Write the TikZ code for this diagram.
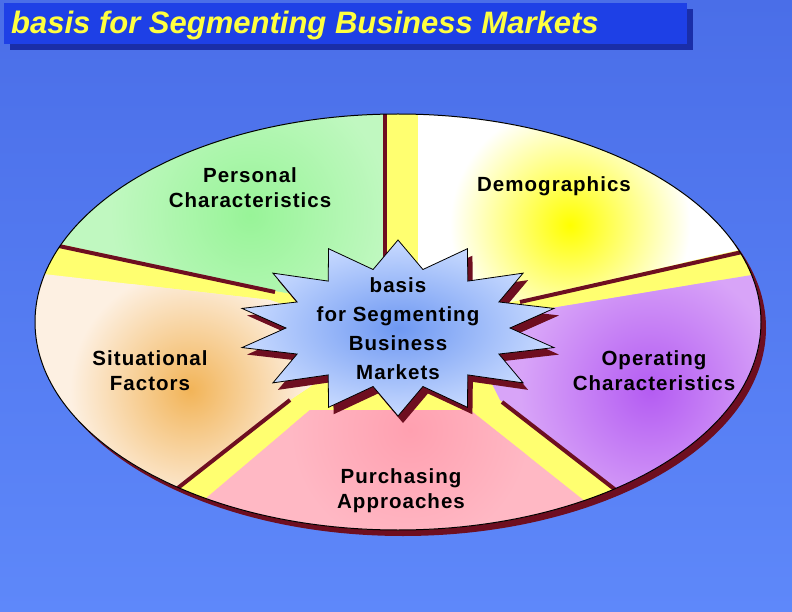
\documentclass[tikz,border=0pt]{standalone}
\usepackage{fontspec}
\setmainfont{Liberation Sans}
\newfontfamily\lblfont[LetterSpace=5]{Liberation Sans}
\begin{document}
\begin{tikzpicture}[x=1pt,y=-1pt,
  lbl/.style={align=center,font=\lblfont\bfseries\fontsize{20.5}{25}\selectfont,text=black},
  divline/.style={draw=darkred,line width=4pt}]
\definecolor{darkred}{HTML}{6E0E20}
\definecolor{bgtop}{HTML}{4A6EE8}
\definecolor{bgbot}{HTML}{5E88FA}
\definecolor{bandy}{HTML}{FFFF70}
\definecolor{tshadow}{HTML}{1A2EA8}
\definecolor{tbox}{HTML}{1E40E6}
\definecolor{tyel}{HTML}{FFFF40}
\definecolor{gin}{HTML}{98F498}\definecolor{gout}{HTML}{C0F8C0}
\definecolor{yin}{HTML}{FFFF00}
\definecolor{oin}{HTML}{F2B458}\definecolor{oout}{HTML}{FDF0E2}
\definecolor{pin}{HTML}{B45CF2}\definecolor{pout}{HTML}{D8A4F8}
\definecolor{rin}{HTML}{FFA0B0}\definecolor{rout}{HTML}{FFB8C4}
\definecolor{sin}{HTML}{6E98F2}\definecolor{sout}{HTML}{C8DAFF}
\useasboundingbox (0,0) rectangle (792,612);
\shade[top color=bgtop,bottom color=bgbot] (0,0) rectangle (792,612);
% title
\fill[tshadow] (10,9) rectangle (693,50);
\fill[tbox] (4,3) rectangle (687,44);
\node[anchor=west,text=tyel,inner sep=0pt] (title) at (11,25) {\fontsize{31}{34}\selectfont\bfseries\itshape basis for Segmenting Business Markets};
% ellipse
\def\ellp{(398,322) ellipse [x radius=363,y radius=208]}
\fill[darkred] (403,328) ellipse [x radius=363,y radius=208];
\fill[bandy] \ellp;
\begin{scope}
\clip \ellp;
\begin{scope}
\clip (385,90) -- (385,310) -- (270,290) -- (0,231) -- (0,90) -- cycle;
\fill[gout] (0,0) rectangle (800,600);
\shade[inner color=gin,outer color=gout] (250,215) circle (140);
\end{scope}
\begin{scope}
\clip (418,90) -- (418,320) -- (520,300) -- (800,236) -- (800,90) -- cycle;
\fill[white] (0,0) rectangle (800,600);
\shade[inner color=yin,outer color=white] (570,225) circle (120);
\end{scope}
\begin{scope}
\clip (300,310) -- (270,300) -- (0,269) -- (0,560) -- (85,560) -- (290,400) -- (320,380) -- cycle;
\fill[oout] (0,0) rectangle (800,600);
\shade[inner color=oin,outer color=oout] (190,390) circle (120);
\end{scope}
\begin{scope}
\clip (540,310) -- (800,267) -- (800,560) -- (711,560) -- (500,400) -- (480,360) -- cycle;
\fill[pout] (0,0) rectangle (800,600);
\shade[inner color=pin,outer color=pout] (650,390) circle (130);
\end{scope}
\begin{scope}
\clip (310,410) -- (133,560) -- (659,560) -- (470,410) -- cycle;
\fill[rout] (0,0) rectangle (800,600);
\shade[inner color=rin,outer color=rout] (410,430) circle (120);
\end{scope}
\draw[divline] (385,110) -- (385,320);
\draw[divline] (275,292) -- (40,242);
\draw[divline] (520,302) -- (760,248);
\draw[divline] (290,400) -- (160,502);
\draw[divline] (502,402) -- (635,505);
\end{scope}
\draw[black,line width=1pt] \ellp;
% star
\def\starpath#1#2{plot[samples=29,domain=0:28,variable=\i]
  ({#1+(mod(\i,2)==0 ? 160 : 112)*cos(90+\i*360/28)},{#2-(mod(\i,2)==0 ? 88 : 60)*sin(90+\i*360/28)})}
\fill[darkred] \starpath{403}{335} -- cycle;
\shade[inner color=sin,outer color=sout,draw=black,line width=0.8pt] \starpath{398}{328} -- cycle;
% labels
\node[lbl] (pc) at (250,188) {Personal\\Characteristics};
\node[lbl] (dm) at (554,186) {Demographics};
\node[lbl] (sf) at (150,371) {Situational\\Factors};
\node[lbl] (oc) at (654,371) {Operating\\Characteristics};
\node[lbl] (pa) at (401,491) {Purchasing\\Approaches};
\node[lbl,font=\lblfont\bfseries\fontsize{20.5}{29}\selectfont] (hub) at (398,329) {basis\\for Segmenting\\Business\\Markets};
\end{tikzpicture}
\end{document}
